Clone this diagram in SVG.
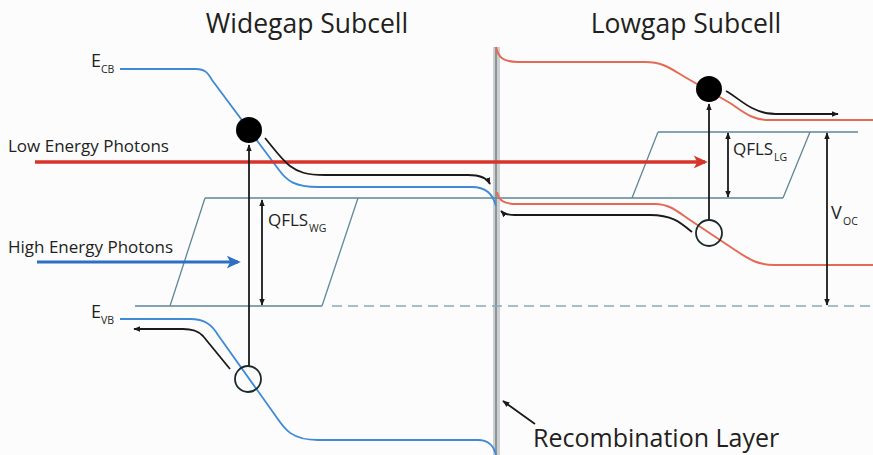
<svg xmlns="http://www.w3.org/2000/svg" width="873" height="455" viewBox="0 0 873 455">
<style>
text{font-family:"Open Sans","Liberation Sans",sans-serif;fill:#231f20}
.title{font-size:26.5px}
.lbl{font-size:17px}
.sub{font-size:10.5px}
.band-b{fill:none;stroke:#3e8ad6;stroke-width:1.8}
.band-r{fill:none;stroke:#e56a55;stroke-width:2}
.qf{fill:none;stroke:#5f8795;stroke-width:1.3}
.blk{fill:none;stroke:#1a1a1a;stroke-width:1.8}
.ball{fill:#000}
.hole{fill:none;stroke:#1a2a2a;stroke-width:1.8}
</style>
<defs>
<marker id="ah" viewBox="0 0 10 10" refX="9" refY="5" markerWidth="7" markerHeight="7" markerUnits="userSpaceOnUse" orient="auto-start-reverse"><path d="M0,1 L10,5 L0,9 z" fill="#1a1a1a"/></marker>
<marker id="ahR" viewBox="0 0 10 10" refX="8" refY="5" markerWidth="14" markerHeight="14" markerUnits="userSpaceOnUse" orient="auto"><path d="M0,0.5 L10,5 L0,9.5 L2.5,5 z" fill="#d8352a"/></marker>
<marker id="ahB" viewBox="0 0 10 10" refX="8" refY="5" markerWidth="14" markerHeight="14" markerUnits="userSpaceOnUse" orient="auto"><path d="M0,0.5 L10,5 L0,9.5 L2.5,5 z" fill="#2d6fc2"/></marker>
</defs>
<rect width="873" height="455" fill="#fcfcfd"/>

<g id="titles">
<text class="title" x="307" y="33" text-anchor="middle">Widegap Subcell</text>
<text class="title" x="686" y="33" text-anchor="middle">Lowgap Subcell</text>
</g>

<g id="recombination-layer">
<rect x="493" y="47" width="7" height="408" fill="#cfcfcf"/>
<line x1="496" y1="47" x2="496" y2="455" stroke="#56707a" stroke-width="1.2"/>
</g>

<g id="quasi-fermi">
<line class="qf" x1="135" y1="306" x2="322" y2="306"/>
<line x1="332" y1="306" x2="873" y2="306" stroke="#86aabb" stroke-width="1.5" stroke-dasharray="10 6"/>
<line class="qf" x1="205" y1="198" x2="783" y2="198"/>
<line class="qf" x1="205" y1="198" x2="170" y2="306"/>
<line class="qf" x1="358" y1="198" x2="322" y2="306"/>
<line class="qf" x1="658" y1="132" x2="858" y2="132"/>
<line class="qf" x1="658" y1="132" x2="632" y2="198"/>
<line class="qf" x1="810" y1="132" x2="783" y2="198"/>
</g>

<g id="widegap-bands">
<path class="band-b" d="M120,69 L196,69 C205,69 208,73 212,80 L279,170 C287,181 295,187 318,187 L472,187 C486,187 493,194 496,206"/>
<path class="band-b" d="M120,319 L190,319 C205,319 212,325 218,335 L275,415 C285,430 292,440 318,440 L478,440 C490,440 494,447 496,455"/>
<text x="91" y="67" style="font-size:18px">E</text><text class="sub" x="101" y="73">CB</text>
<text x="91" y="318" style="font-size:18px">E</text><text class="sub" x="101" y="324">VB</text>
</g>

<g id="lowgap-bands">
<path class="band-r" d="M496,47 C498,57 503,62 518,62 L645,62 C665,62 672,70 690,80 L730,103 C745,113 752,120 770,120 L873,120"/>
<path class="band-r" d="M497,192 C499,201 504,204 518,204 L655,204 C670,204 678,212 690,220 L735,250 C750,260 758,265 775,265 L873,265"/>
</g>

<g id="photons">
<line x1="35" y1="162" x2="705" y2="162" stroke="#d8352a" stroke-width="3.5" marker-end="url(#ahR)"/>
<line x1="37" y1="262" x2="238" y2="262" stroke="#2d6fc2" stroke-width="3" marker-end="url(#ahB)"/>
<text class="lbl" x="8" y="152">Low Energy Photons</text>
<text class="lbl" x="8" y="253">High Energy Photons</text>
</g>

<g id="connectors">
<line class="blk" x1="249" y1="366" x2="249" y2="145" marker-end="url(#ah)"/>
<line class="blk" x1="709" y1="220" x2="709" y2="104" marker-end="url(#ah)"/>
<line class="blk" stroke-width="1.5" x1="262" y1="200" x2="262" y2="305" marker-start="url(#ah)" marker-end="url(#ah)"/>
<line class="blk" stroke-width="1.5" x1="728" y1="133" x2="728" y2="197" marker-start="url(#ah)" marker-end="url(#ah)"/>
<line class="blk" stroke-width="1.5" x1="827" y1="133" x2="827" y2="305" marker-start="url(#ah)" marker-end="url(#ah)"/>
<path class="blk" d="M265,138 C275,150 282,160 290,166 C298,172 306,175 325,175 L468,175 C481,175 487,178 490,184" marker-end="url(#ah)"/>
<path class="blk" d="M230,369 L203,336 C198,331 193,329 183,329 L134,329" marker-end="url(#ah)"/>
<path class="blk" d="M726,91 C735,96 742,103 752,108 C760,112 766,114 780,114 L838,114" marker-end="url(#ah)"/>
<path class="blk" d="M692,232 C680,222 672,215 650,215 L515,215 C508,215 504,214 501,211" marker-end="url(#ah)"/>
<line class="blk" stroke-width="1.5" x1="535" y1="424" x2="503" y2="401" marker-end="url(#ah)"/>
</g>

<g id="carriers">
<circle class="ball" cx="249" cy="130" r="13"/>
<circle class="hole" cx="248" cy="379" r="13"/>
<circle class="ball" cx="709" cy="89" r="13"/>
<circle class="hole" cx="709" cy="233" r="13"/>
</g>

<g id="labels">
<text x="268" y="226" style="font-size:17px">QFLS</text><text class="sub" x="309" y="232">WG</text>
<text x="733" y="155" style="font-size:17px">QFLS</text><text class="sub" x="774" y="161">LG</text>
<text x="831" y="219" style="font-size:18px">V</text><text class="sub" x="843" y="225">OC</text>
<text x="533" y="447" style="font-size:25px">Recombination Layer</text>
</g>
</svg>
